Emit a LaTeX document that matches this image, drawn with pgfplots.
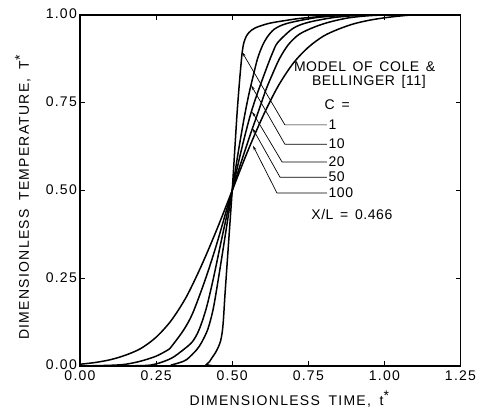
\documentclass[border=0pt]{standalone}
\usepackage{fontspec}
\setmainfont{Liberation Sans}
\newfontfamily\tickfont{Liberation Sans}[LetterSpace=9]
\newfontfamily\labfont{Liberation Sans}[LetterSpace=9, WordSpace=1.3]
\newfontfamily\notefont{Liberation Sans}[LetterSpace=4, WordSpace=1.5]
\usepackage{pgfplots}
\pgfplotsset{compat=1.18}
\usetikzlibrary{arrows.meta}
\newcommand{\sstar}{\raisebox{0.3em}{*}}
\begin{document}
\begin{tikzpicture}
\begin{axis}[
  scale only axis,
  width=380.5pt, height=351pt,
  xmin=0, xmax=1.25, ymin=0, ymax=1,
  xtick={0,0.25,0.5,0.75,1.0,1.25},
  ytick={0,0.25,0.5,0.75,1.0},
  tick align=inside,
  major tick length=5pt,
  axis line style={line width=1.2pt},
  tick style={line width=0.9pt, black},
  /pgf/number format/.cd, fixed, fixed zerofill, precision=2, assume math mode=true,
  /pgfplots/.cd,
  ticklabel style={font=\tickfont\fontsize{14}{16}\selectfont},
  xticklabel style={inner sep=1pt, yshift=-3.5pt},
  yticklabel style={inner sep=1pt, xshift=-2pt, yshift=1pt},
  xlabel={DIMENSIONLESS TIME, t\sstar},
  ylabel={DIMENSIONLESS TEMPERATURE, T\sstar},
  label style={font=\labfont\fontsize{14}{16}\selectfont},
  xlabel style={at={(axis description cs:0.55,-0.094)}, anchor=center},
  ylabel style={at={(axis description cs:-0.15,0.48)}, anchor=center},
  curve/.style={black, line width=1.5pt, smooth, mark=none},
]
% C = 1 (narrowest)
\addplot[curve] coordinates {(0,0) (0.40,0.0) (0.415,0.004) (0.425,0.012) (0.434,0.024) (0.445,0.038) (0.455,0.055) (0.462,0.072) (0.467,0.095) (0.471,0.13) (0.476,0.2) (0.48,0.25) (0.49,0.375) (0.50,0.50) (0.508,0.61) (0.516,0.72) (0.523,0.80) (0.529,0.86) (0.533,0.895) (0.538,0.92) (0.545,0.937) (0.555,0.95) (0.575,0.963) (0.62,0.976) (0.68,0.985) (0.73,0.991) (0.82,0.997) (0.92,1.0) (1.25,1.0)};
% C = 10
\addplot[curve] coordinates {(0,0) (0.28,0.0) (0.30,0.003) (0.325,0.009) (0.35,0.018) (0.383,0.046) (0.40,0.068) (0.42,0.105) (0.437,0.16) (0.453,0.24) (0.475,0.36) (0.50,0.50) (0.52,0.61) (0.54,0.71) (0.555,0.775) (0.568,0.823) (0.583,0.875) (0.599,0.912) (0.615,0.937) (0.639,0.96) (0.68,0.976) (0.771,0.992) (0.85,0.998) (0.92,1.0) (1.25,1.0)};
% C = 20
\addplot[curve] coordinates {(0,0) (0.20,0.001) (0.25,0.006) (0.30,0.022) (0.339,0.046) (0.37,0.07) (0.392,0.105) (0.415,0.165) (0.437,0.245) (0.465,0.36) (0.50,0.50) (0.53,0.615) (0.558,0.71) (0.58,0.77) (0.602,0.823) (0.62,0.865) (0.634,0.895) (0.65,0.922) (0.70,0.962) (0.75,0.979) (0.827,0.992) (0.90,0.998) (0.97,1.0) (1.25,1.0)};
% C = 50
\addplot[curve] coordinates {(0,0) (0.10,0.002) (0.15,0.005) (0.20,0.014) (0.25,0.028) (0.289,0.046) (0.30,0.055) (0.34,0.102) (0.37,0.15) (0.411,0.245) (0.45,0.35) (0.50,0.50) (0.55,0.635) (0.584,0.72) (0.61,0.785) (0.629,0.825) (0.655,0.875) (0.684,0.915) (0.72,0.945) (0.771,0.966) (0.82,0.98) (0.883,0.992) (0.95,0.998) (1.02,1.0) (1.25,1.0)};
% C = 100 (widest)
\addplot[curve] coordinates {(0.0,0.005) (0.05,0.010) (0.10,0.018) (0.15,0.031) (0.20,0.05) (0.25,0.082) (0.30,0.13) (0.35,0.198) (0.40,0.288) (0.45,0.39) (0.50,0.50) (0.55,0.61) (0.60,0.71) (0.65,0.796) (0.70,0.862) (0.75,0.908) (0.80,0.94) (0.85,0.96) (0.90,0.975) (0.95,0.985) (1.00,0.992) (1.05,0.997) (1.10,1.0) (1.25,1.0)};
% leader lines
\begin{scope}[line width=0.7pt, -{Stealth[length=5pt,width=2.6pt]}]
\draw (axis cs:0.811,0.687) -- (axis cs:0.673,0.687) -- (axis cs:0.532,0.895);
\draw (axis cs:0.811,0.632) -- (axis cs:0.673,0.632) -- (axis cs:0.562,0.800);
\draw (axis cs:0.811,0.581) -- (axis cs:0.664,0.581) -- (axis cs:0.565,0.725);
\draw (axis cs:0.811,0.538) -- (axis cs:0.657,0.538) -- (axis cs:0.567,0.677);
\draw (axis cs:0.811,0.493) -- (axis cs:0.647,0.493) -- (axis cs:0.568,0.628);
\end{scope}
\begin{scope}[every node/.style={font=\notefont\fontsize{14}{16}\selectfont, inner sep=0pt}]
\node[anchor=west] at (axis cs:0.816,0.687) {1};
\node[anchor=west] at (axis cs:0.816,0.632) {10};
\node[anchor=west] at (axis cs:0.816,0.581) {20};
\node[anchor=west] at (axis cs:0.816,0.538) {50};
\node[anchor=west] at (axis cs:0.816,0.493) {100};
\node at (axis cs:0.935,0.852) {MODEL OF COLE \&};
\node at (axis cs:0.949,0.810) {BELLINGER [11]};
\node at (axis cs:0.845,0.745) {C =};
\node at (axis cs:0.893,0.432) {X/L = 0.466};
\end{scope}
\end{axis}
\pgfresetboundingbox
\useasboundingbox (current axis.south west) ++(-80pt,-44pt) rectangle ([shift={(20.5pt,15pt)}]current axis.north east);
\end{tikzpicture}
\end{document}
